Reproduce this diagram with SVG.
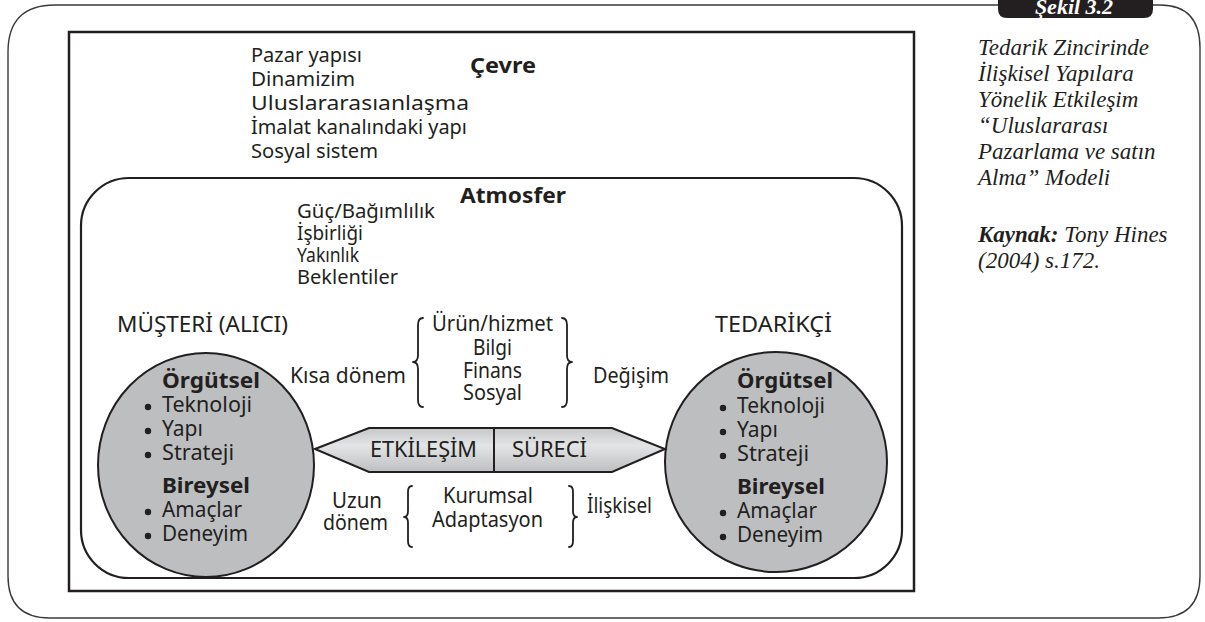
<svg xmlns="http://www.w3.org/2000/svg" width="1205" height="622" viewBox="0 0 1205 622">
<defs>
<linearGradient id="arrowGrad" x1="0" y1="0" x2="0" y2="1">
<stop offset="0" stop-color="#c6c7c9"/>
<stop offset="0.4" stop-color="#e3e4e5"/>
<stop offset="1" stop-color="#bebfc1"/>
</linearGradient>
</defs>
<style>
text{font-family:"Noto Sans","DejaVu Sans",sans-serif;font-size:21px;fill:#231f20}
.s{font-size:20px}
.b{font-weight:bold}
.c{font-family:"Liberation Serif","DejaVu Serif",serif;font-style:italic;font-size:23px}
.brace{fill:none;stroke:#231f20;stroke-width:1.8;stroke-linecap:round;stroke-linejoin:round}
.circ{fill:#bcbec0;stroke:#231f20;stroke-width:2}
.dot{fill:#231f20}
</style>
<rect width="1205" height="622" fill="#ffffff"/>
<g id="frame">
<path d="M998,5 L55,5 Q8,5 8,52 L8,576 Q8,618 50,618 L1158,618 Q1200,618 1200,576 L1200,48 Q1200,5 1160,5 L1153,5" fill="none" stroke="#3a3a3a" stroke-width="1.4"/>
</g>
<g id="tab">
<path d="M998,0 L1153,0 L1153,9 Q1153,18 1144,18 L1007,18 Q998,18 998,9 Z" fill="#231f20"/>
<text x="1074" y="14" text-anchor="middle" font-weight="bold" style="fill:#ffffff;font-family:'Liberation Serif',serif;font-style:italic;font-size:22px">Şekil 3.2</text>
</g>
<g id="caption">
<text class="c" x="978" y="55">Tedarik Zincirinde</text>
<text class="c" x="978" y="81">İlişkisel Yapılara</text>
<text class="c" x="978" y="107">Yönelik Etkileşim</text>
<text class="c" x="978" y="133">“Uluslararası</text>
<text class="c" x="978" y="159">Pazarlama ve satın</text>
<text class="c" x="978" y="185">Alma” Modeli</text>
<text class="c" x="978" y="242"><tspan font-weight="bold">Kaynak:</tspan> Tony Hines</text>
<text class="c" x="978" y="268">(2004) s.172.</text>
</g>
<g id="environment">
<rect x="69" y="32" width="845" height="559" fill="none" stroke="#231f20" stroke-width="2.5"/>
<text class="b" x="470" y="73" textLength="66" lengthAdjust="spacingAndGlyphs">Çevre</text>
<text class="s" x="251" y="62" textLength="111" lengthAdjust="spacingAndGlyphs">Pazar yapısı</text>
<text class="s" x="251" y="86" textLength="104" lengthAdjust="spacingAndGlyphs">Dinamizim</text>
<text class="s" x="251" y="110" textLength="218" lengthAdjust="spacingAndGlyphs">Uluslararasıanlaşma</text>
<text class="s" x="251" y="134" textLength="216" lengthAdjust="spacingAndGlyphs">İmalat kanalındaki yapı</text>
<text class="s" x="251" y="158" textLength="127" lengthAdjust="spacingAndGlyphs">Sosyal sistem</text>
</g>
<g id="atmosphere">
<rect x="81" y="178" width="821" height="400" rx="48" ry="48" fill="none" stroke="#231f20" stroke-width="2.2"/>
<text class="b" x="460" y="203" textLength="106" lengthAdjust="spacingAndGlyphs">Atmosfer</text>
<text class="s" x="297" y="218" textLength="138" lengthAdjust="spacingAndGlyphs">Güç/Bağımlılık</text>
<text class="s" x="297" y="240" textLength="66" lengthAdjust="spacingAndGlyphs">İşbirliği</text>
<text class="s" x="297" y="262" textLength="62" lengthAdjust="spacingAndGlyphs">Yakınlık</text>
<text class="s" x="297" y="284" textLength="101" lengthAdjust="spacingAndGlyphs">Beklentiler</text>
</g>
<g id="customer">
<text x="117" y="332" textLength="171" lengthAdjust="spacingAndGlyphs">MÜŞTERİ (ALICI)</text>
<ellipse class="circ" cx="206" cy="465" rx="108" ry="112"/>
<text class="b" x="162" y="388" textLength="98" lengthAdjust="spacingAndGlyphs">Örgütsel</text>
<text x="162" y="412" textLength="90" lengthAdjust="spacingAndGlyphs">Teknoloji</text>
<text x="162" y="436">Yapı</text>
<text x="162" y="460" textLength="72" lengthAdjust="spacingAndGlyphs">Strateji</text>
<text class="b" x="162" y="493" textLength="88" lengthAdjust="spacingAndGlyphs">Bireysel</text>
<text x="162" y="517" textLength="80" lengthAdjust="spacingAndGlyphs">Amaçlar</text>
<text x="162" y="541" textLength="86" lengthAdjust="spacingAndGlyphs">Deneyim</text>
<circle class="dot" cx="148" cy="407" r="3.2"/>
<circle class="dot" cx="148" cy="431" r="3.2"/>
<circle class="dot" cx="148" cy="455" r="3.2"/>
<circle class="dot" cx="148" cy="512" r="3.2"/>
<circle class="dot" cx="148" cy="536" r="3.2"/>
</g>
<g id="supplier">
<text x="715" y="332" textLength="117" lengthAdjust="spacingAndGlyphs">TEDARİKÇİ</text>
<ellipse class="circ" cx="776" cy="462" rx="111" ry="110"/>
<text class="b" x="737" y="388" textLength="96" lengthAdjust="spacingAndGlyphs">Örgütsel</text>
<text x="737" y="413" textLength="88" lengthAdjust="spacingAndGlyphs">Teknoloji</text>
<text x="737" y="437">Yapı</text>
<text x="737" y="461" textLength="72" lengthAdjust="spacingAndGlyphs">Strateji</text>
<text class="b" x="737" y="494" textLength="88" lengthAdjust="spacingAndGlyphs">Bireysel</text>
<text x="737" y="518" textLength="80" lengthAdjust="spacingAndGlyphs">Amaçlar</text>
<text x="737" y="542" textLength="86" lengthAdjust="spacingAndGlyphs">Deneyim</text>
<circle class="dot" cx="723" cy="408" r="3.2"/>
<circle class="dot" cx="723" cy="432" r="3.2"/>
<circle class="dot" cx="723" cy="456" r="3.2"/>
<circle class="dot" cx="723" cy="513" r="3.2"/>
<circle class="dot" cx="723" cy="537" r="3.2"/>
</g>
<g id="short-term">
<text x="290" y="383" textLength="116" lengthAdjust="spacingAndGlyphs">Kısa dönem</text>
<path class="brace" d="M423,318 Q418,318 418,325 L418,355 Q418,362 413,362 Q418,362 418,369 L418,400 Q418,407 423,407"/>
<text x="432" y="331" textLength="121" lengthAdjust="spacingAndGlyphs">Ürün/hizmet</text>
<text x="473" y="355" textLength="39" lengthAdjust="spacingAndGlyphs">Bilgi</text>
<text x="463" y="378" textLength="59" lengthAdjust="spacingAndGlyphs">Finans</text>
<text x="463" y="400" textLength="59" lengthAdjust="spacingAndGlyphs">Sosyal</text>
<path class="brace" d="M562,318 Q567,318 567,325 L567,355 Q567,362 572,362 Q567,362 567,369 L567,400 Q567,407 562,407"/>
<text x="593" y="383" textLength="76" lengthAdjust="spacingAndGlyphs">Değişim</text>
</g>
<g id="connectors">
<g id="interaction-process">
<polygon points="315,449 369,428 612,428 665,449 612,472 369,472" fill="url(#arrowGrad)" stroke="#231f20" stroke-width="2"/>
<line x1="494" y1="428" x2="494" y2="472" stroke="#231f20" stroke-width="2"/>
<text x="370" y="457" textLength="107" lengthAdjust="spacingAndGlyphs">ETKİLEŞİM</text>
<text x="512" y="457" textLength="75" lengthAdjust="spacingAndGlyphs">SÜRECİ</text>
</g>
</g>
<g id="long-term">
<text x="332" y="508" textLength="50" lengthAdjust="spacingAndGlyphs">Uzun</text>
<text x="323" y="530" textLength="65" lengthAdjust="spacingAndGlyphs">dönem</text>
<path class="brace" d="M412,486 Q408,486 408,492 L408,511 Q408,517 404,517 Q408,517 408,523 L408,541 Q408,547 412,547"/>
<text x="443" y="503" textLength="90" lengthAdjust="spacingAndGlyphs">Kurumsal</text>
<text x="432" y="527" textLength="111" lengthAdjust="spacingAndGlyphs">Adaptasyon</text>
<path class="brace" d="M569,486 Q573,486 573,492 L573,511 Q573,517 577,517 Q573,517 573,523 L573,541 Q573,547 569,547"/>
<text x="587" y="513" textLength="65" lengthAdjust="spacingAndGlyphs">İlişkisel</text>
</g>
</svg>
